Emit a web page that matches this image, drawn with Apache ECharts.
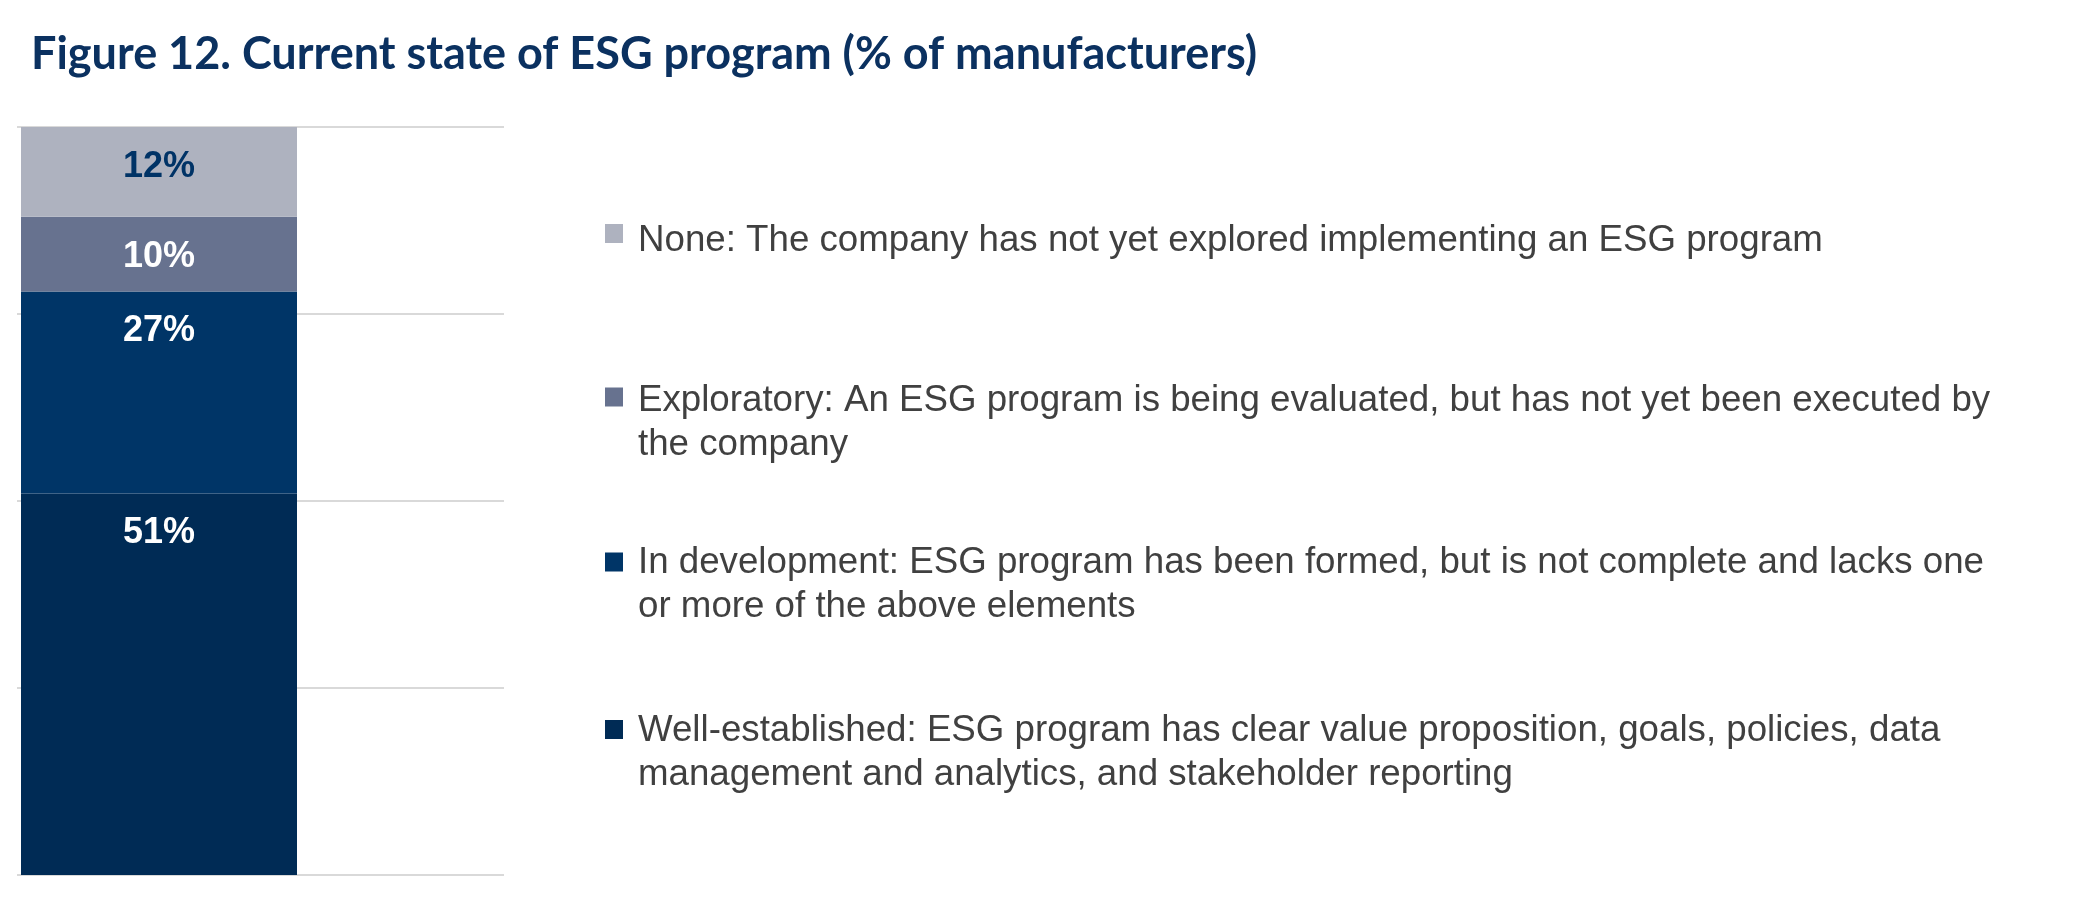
<!DOCTYPE html>
<html lang="en">
<head>
	<meta charset="UTF-8">
	<title>Current state of ESG program</title>
	<script src="https://cdn.jsdelivr.net/npm/echarts@6/dist/echarts.min.js"></script>
	<style>
		html, body { margin: 0; padding: 0; background: #fff; }
		#chart_show { width: 2100px; height: 900px; }
	</style>
</head>
<body>
	<div id="chart_show"></div>
	<script>
        // data, stacked bottom -> top
        var categories = ['ESG program'];
        var legendLines = [
            ['Well-established: ESG program has clear value proposition, goals, policies, data',
             'management and analytics, and stakeholder reporting'],
            ['In development: ESG program has been formed, but is not complete and lacks one',
             'or more of the above elements'],
            ['Exploratory: An ESG program is being evaluated, but has not yet been executed by',
             'the company'],
            ['None: The company has not yet explored implementing an ESG program']
        ];
        var seriesNames = legendLines.map(function (l) { return l.join(' '); });
        var seriesValues = [51, 27, 10, 12];
        var yTicks = [0, 25, 50, 75, 100];

        var colors = ['#002b55', '#003567', '#67728f', '#aeb2bf'];
        var labelColors = ['#ffffff', '#ffffff', '#ffffff', '#003366'];

        var oChart = echarts.init(document.getElementById('chart_show'), null, {renderer: 'canvas'});

        var series = seriesNames.map(function (name, i) {
            return {
                name: name,
                type: 'bar',
                stack: 'total',
                barWidth: '100%',
                xAxisIndex: 0,
                yAxisIndex: 0,
                itemStyle: {color: colors[i]},
                label: {
                    show: true,
                    position: 'insideTop',
                    distance: 22,
                    formatter: '{c}%',
                    color: labelColors[i],
                    fontFamily: 'Liberation Sans, Arial',
                    fontWeight: 'bold',
                    fontSize: 36
                },
                data: [seriesValues[i]]
            };
        });

        // one legend per entry (top entry first); first text line sits a bit below the square
        var lineH = 44;
        var iconH = 19;
        var iconCenters = [233, 396.5, 561.5, 729];
        var textOffsets = [7, 4, 1, 1];
        var legends = [];
        for (var k = 0; k < 4; k++) {
            var idx = 3 - k;
            var n = legendLines[idx].length;
            var gap = (n - 1) * lineH + 2 * textOffsets[k];
            var rich = '{gap| }\n' + legendLines[idx].map(function (l) {
                return '{t|' + l + '}';
            }).join('\n');
            legends.push({
                data: [seriesNames[idx]],
                left: 605,
                top: iconCenters[k] - n * lineH / 2,
                padding: 0,
                itemWidth: 18,
                itemHeight: iconH,
                icon: 'rect',
                selectedMode: false,
                formatter: (function (txt) { return function () { return txt; }; })(rich),
                textStyle: {
                    padding: [0, 0, 0, 10],
                    rich: {
                        gap: {fontSize: 1, lineHeight: gap},
                        t: {
                            fontFamily: 'Liberation Sans, Arial',
                            fontSize: 36.7,
                            lineHeight: lineH,
                            color: '#404040'
                        }
                    }
                }
            });
        }

        var chartopt = {
            animation: false,
            title: {
                text: 'Figure 12. Current state of ESG program (% of manufacturers)',
                left: 31,
                top: 32,
                padding: 0,
                textStyle: {
                    fontFamily: 'Lato',
                    fontWeight: 'bold',
                    fontSize: 45,
                    color: '#0b3160'
                }
            },
            legend: legends,
            grid: [
                {left: 21, width: 276, top: 127, height: 748},
                {left: 17, width: 487, top: 127, height: 748}
            ],
            xAxis: [
                {type: 'category', gridIndex: 0, data: categories, show: false},
                {type: 'value', gridIndex: 1, show: false}
            ],
            yAxis: [
                {type: 'value', gridIndex: 0, min: yTicks[0], max: yTicks[yTicks.length - 1], show: false},
                {
                    type: 'value',
                    gridIndex: 1,
                    min: yTicks[0],
                    max: yTicks[yTicks.length - 1],
                    interval: yTicks[1] - yTicks[0],
                    axisLine: {show: false},
                    axisTick: {show: false},
                    axisLabel: {show: false},
                    splitLine: {show: true, lineStyle: {color: '#d9d9d9', width: 2}}
                }
            ],
            series: series
        };
        oChart.setOption(chartopt);
	</script>
</body>
</html>
